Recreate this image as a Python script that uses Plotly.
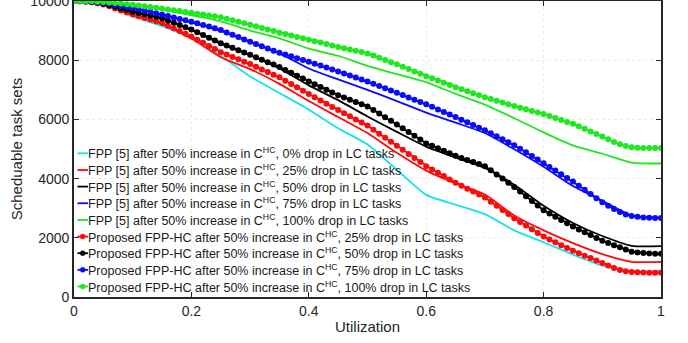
import plotly.graph_objects as go

# ---------------- data ----------------
util_coarse = [0.0, 0.05, 0.1, 0.15, 0.2, 0.25, 0.3, 0.35, 0.4, 0.45, 0.5,
               0.55, 0.6, 0.65, 0.7, 0.75, 0.8, 0.85, 0.9, 0.95, 1.0]
util_fine = [round(i / 100, 2) for i in range(101)]

fpp_0 = [10000, 9880, 9480, 9150, 8740, 8150, 7450, 6890, 6330, 5700, 5150,
         4300, 3450, 3120, 2800, 2250, 1850, 1430, 1060, 860, 890]
fpp_25 = [10000, 9880, 9520, 9220, 8730, 8100, 7700, 7200, 6620, 6080, 5540,
          4870, 4270, 3840, 3460, 2750, 2250, 1820, 1450, 1190, 1190]
fpp_50 = [10000, 9906, 9640, 9410, 9020, 8560, 8170, 7720, 7150, 6650, 6100,
          5580, 5080, 4710, 4360, 3790, 3080, 2500, 2060, 1730, 1720]
fpp_75 = [10000, 9930, 9760, 9540, 9280, 8990, 8610, 8230, 7720, 7350, 7000,
          6620, 6230, 5890, 5540, 4990, 4400, 3750, 3250, 2750, 2680]
fpp_100 = [10000, 9955, 9870, 9720, 9520, 9310, 9000, 8740, 8390, 8150, 7810,
           7530, 7260, 6860, 6500, 6040, 5560, 5120, 4840, 4540, 4510]

hc_25 = [10000, 9994, 9978, 9954, 9920, 9880, 9820, 9750, 9680, 9610,
         9540, 9484, 9428, 9372, 9316, 9260, 9168, 9076, 8984, 8892,
         8800, 8694, 8588, 8482, 8376, 8270, 8190, 8110, 8030, 7950,
         7870, 7780, 7690, 7600, 7510, 7420, 7308, 7196, 7084, 6972,
         6860, 6750, 6640, 6530, 6422, 6315, 6210, 6105, 6000, 5895,
         5790, 5654, 5518, 5382, 5246, 5110, 4972, 4834, 4696, 4558,
         4420, 4308, 4196, 4084, 3972, 3860, 3760, 3660, 3560, 3460,
         3360, 3220, 3080, 2940, 2800, 2660, 2536, 2412, 2288, 2164,
         2040, 1944, 1848, 1752, 1656, 1560, 1478, 1396, 1314, 1232,
         1150, 1060, 980, 915, 870, 848, 836, 828, 823, 821, 820]
hc_50 = [10000, 9995, 9985, 9966, 9940, 9906, 9860, 9806, 9750, 9695,
         9640, 9596, 9552, 9508, 9464, 9420, 9344, 9268, 9192, 9116,
         9040, 8947, 8854, 8761, 8668, 8575, 8496, 8417, 8338, 8259,
         8180, 8098, 8016, 7934, 7852, 7770, 7672, 7574, 7476, 7378,
         7280, 7188, 7096, 7004, 6912, 6820, 6744, 6668, 6592, 6516,
         6440, 6318, 6196, 6074, 5952, 5830, 5702, 5574, 5446, 5318,
         5190, 5106, 5022, 4938, 4854, 4770, 4700, 4630, 4560, 4490,
         4420, 4280, 4140, 4000, 3860, 3720, 3562, 3404, 3246, 3088,
         2930, 2820, 2710, 2600, 2490, 2380, 2284, 2188, 2092, 1996,
         1900, 1826, 1752, 1678, 1604, 1530, 1505, 1485, 1472, 1465, 1460]
hc_75 = [10000, 9997, 9990, 9975, 9955, 9930, 9900, 9868, 9833, 9797,
         9760, 9720, 9680, 9636, 9590, 9540, 9492, 9444, 9396, 9348,
         9300, 9245, 9190, 9135, 9078, 9020, 8940, 8860, 8780, 8700,
         8620, 8545, 8470, 8395, 8322, 8250, 8190, 8130, 8070, 8010,
         7950, 7884, 7818, 7752, 7686, 7620, 7552, 7484, 7416, 7348,
         7280, 7204, 7128, 7052, 6976, 6900, 6822, 6744, 6666, 6588,
         6510, 6424, 6338, 6252, 6166, 6080, 5990, 5900, 5810, 5720,
         5630, 5530, 5430, 5330, 5230, 5130, 5008, 4886, 4764, 4642,
         4520, 4396, 4272, 4148, 4024, 3900, 3760, 3620, 3480, 3340,
         3200, 3080, 2970, 2870, 2790, 2740, 2710, 2690, 2680, 2672, 2665]
hc_100 = [10000, 9998, 9994, 9988, 9976, 9962, 9946, 9930, 9912, 9894,
          9875, 9850, 9825, 9800, 9772, 9745, 9716, 9688, 9659, 9630,
          9600, 9572, 9543, 9512, 9482, 9450, 9400, 9350, 9300, 9250,
          9200, 9145, 9090, 9038, 8985, 8930, 8882, 8834, 8786, 8738,
          8690, 8642, 8594, 8546, 8498, 8450, 8405, 8362, 8318, 8274,
          8230, 8155, 8080, 8008, 7934, 7860, 7780, 7700, 7620, 7540,
          7460, 7386, 7312, 7238, 7164, 7090, 7022, 6954, 6886, 6818,
          6750, 6690, 6630, 6570, 6510, 6450, 6396, 6342, 6288, 6234,
          6180, 6114, 6048, 5982, 5916, 5850, 5765, 5680, 5595, 5508,
          5420, 5330, 5240, 5160, 5100, 5060, 5045, 5038, 5034, 5031, 5030]

names_fpp = [
    "FPP [5] after 50% increase in C<sup>HC</sup>, 0% drop in LC tasks",
    "FPP [5] after 50% increase in C<sup>HC</sup>, 25% drop in LC tasks",
    "FPP [5] after 50% increase in C<sup>HC</sup>, 50% drop in LC tasks",
    "FPP [5] after 50% increase in C<sup>HC</sup>, 75% drop in LC tasks",
    "FPP [5] after 50% increase in C<sup>HC</sup>, 100% drop in LC tasks",
]
names_hc = [
    "Proposed FPP-HC after 50% increase in C<sup>HC</sup>, 25% drop in LC tasks",
    "Proposed FPP-HC after 50% increase in C<sup>HC</sup>, 50% drop in LC tasks",
    "Proposed FPP-HC after 50% increase in C<sup>HC</sup>, 75% drop in LC tasks",
    "Proposed FPP-HC after 50% increase in C<sup>HC</sup>, 100% drop in LC tasks",
]

x_ticks = [0, 0.2, 0.4, 0.6, 0.8, 1]
x_ticktext = ["0", "0.2", "0.4", "0.6", "0.8", "1"]
y_ticks = [0, 2000, 4000, 6000, 8000, 10000]
y_ticktext = ["0", "2000", "4000", "6000", "8000", "10000"]

CYAN = "#14e3f0"
RED = "#ff0a0a"
BLACK = "#000000"
BLUE = "#0a0aff"
GREEN = "#1ee81e"

fpp_series = [fpp_0, fpp_25, fpp_50, fpp_75, fpp_100]
fpp_colors = [CYAN, RED, BLACK, BLUE, GREEN]
hc_series = [hc_25, hc_50, hc_75, hc_100]
hc_colors = [RED, BLACK, BLUE, GREEN]

fig = go.Figure()
for name, vals, col in zip(names_fpp, fpp_series, fpp_colors):
    fig.add_trace(go.Scatter(x=util_coarse, y=vals, mode="lines", name=name,
                             line=dict(color=col, width=1.8, shape="spline", smoothing=0.6)))
for name, vals, col in zip(names_hc, hc_series, hc_colors):
    fig.add_trace(go.Scatter(x=util_fine, y=vals, mode="lines+markers", name=name,
                             line=dict(color=col, width=1.8),
                             marker=dict(color=col, size=6, symbol="circle")))

# ---------------- layout ----------------
W, H = 688, 343
ML, MR, MT, MB = 74, 27, 1, 46
PW, PH = W - ML - MR, H - MT - MB


def px_x(px):
    return (px - ML) / PW


def px_y(py):
    return (H - MB - py) / PH


# legend drawn as text + short keys (rows ~16.7 px apart, as in the reference)
shapes = []
annotations = []
legend_names = names_fpp + names_hc
legend_colors = fpp_colors + hc_colors
legend_marker = [False] * 5 + [True] * 4
for i, (nm, col, mk) in enumerate(zip(legend_names, legend_colors, legend_marker)):
    yc = 153.3 + i * 16.65
    shapes.append(dict(type="line", xref="paper", yref="paper",
                       x0=px_x(77.5), x1=px_x(88), y0=px_y(yc), y1=px_y(yc),
                       line=dict(color=col, width=1.8)))
    if mk:
        shapes.append(dict(type="circle", xref="paper", yref="paper",
                           x0=px_x(80.2), x1=px_x(85.2), y0=px_y(yc + 2.5), y1=px_y(yc - 2.5),
                           fillcolor=col, line=dict(color=col, width=0.5)))
    annotations.append(dict(text=nm, xref="paper", yref="paper",
                            x=px_x(88), y=px_y(yc), xanchor="left", yanchor="middle",
                            showarrow=False, borderpad=0, borderwidth=0,
                            font=dict(size=12.5, color="#1a1a1a")))

axis_col = "#262626"
fig.update_layout(
    width=W, height=H,
    margin=dict(l=ML, r=MR, t=MT, b=MB, autoexpand=False),
    paper_bgcolor="white", plot_bgcolor="white",
    font=dict(family="Liberation Sans, Arial, sans-serif", size=14, color=axis_col),
    showlegend=False,
    hovermode=False,
    shapes=shapes,
    annotations=annotations,
    xaxis=dict(range=[0, 1], tickvals=x_ticks, ticktext=x_ticktext,
               ticks="inside", ticklen=5, tickwidth=1.3, tickcolor=axis_col,
               showline=True, linecolor=axis_col, linewidth=1.8, mirror="ticks",
               showgrid=True, gridcolor="#f1ecdc", griddash="dot", gridwidth=1,
               zeroline=False, automargin=True, ticklabeloverflow="allow",
               title=dict(text="Utilization", font=dict(size=15), standoff=4)),
    yaxis=dict(range=[0, 10000], tickvals=y_ticks, ticktext=y_ticktext,
               ticks="inside", ticklen=5, tickwidth=1.3, tickcolor=axis_col,
               showline=True, linecolor=axis_col, linewidth=1.8, mirror="ticks",
               showgrid=True, gridcolor="#f1ecdc", griddash="dot", gridwidth=1,
               zeroline=False, automargin=True, ticklabeloverflow="allow",
               title=dict(text="Scheduable task sets", font=dict(size=15), standoff=4)),
)

fig.write_html("out.html", config={"displayModeBar": False},
               post_script="document.body.style.margin='0';document.body.style.padding='0';")
